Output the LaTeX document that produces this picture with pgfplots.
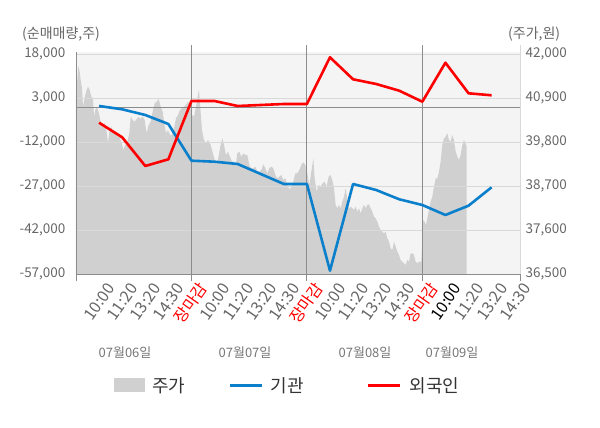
\documentclass[border=0pt]{standalone}
\usepackage{fontspec}
\setmainfont{Noto Sans CJK KR}
\usepackage{pgfplots}
\usepackage{pgfplotstable}
\pgfplotsset{compat=1.18}
\definecolor{tickgray}{HTML}{666666}
\definecolor{dategray}{HTML}{777777}
\definecolor{areagray}{HTML}{D0D0D0}
\definecolor{bggray}{HTML}{F4F4F4}
\definecolor{gridgray}{HTML}{D9D9D9}
\definecolor{axisgray}{HTML}{8C8C8C}
\definecolor{blueline}{HTML}{0A7FCC}
\definecolor{redline}{HTML}{FF0000}
\definecolor{legtext}{HTML}{333333}

\pgfplotstableread{
x price
0 41000
0.058 41358
0.10 41716
0.159 41566
0.202 41358
0.26 41150
0.303 40691
0.346 40816
0.404 40983
0.462 41108
0.52 41191
0.592 41108
0.664 40941
0.736 40900
0.78 40441
0.837 40608
0.895 40691
0.953 40608
1.01 40483
1.068 40316
1.155 40233
1.242 40275
1.328 40066
1.386 39775
1.444 40066
1.53 40191
1.617 40025
1.703 40066
1.79 39941
1.877 39941
1.963 39816
2.05 39608
2.136 39733
2.223 39816
2.31 40025
2.368 40441
2.454 40358
2.541 40316
2.628 40383
2.714 40441
2.801 40383
2.887 40441
2.974 40358
3.061 40025
3.147 40233
3.234 40316
3.32 40566
3.407 40775
3.494 40816
3.58 40883
3.667 40691
3.754 40566
3.811 40316
3.898 40025
3.984 40108
4.071 39983
4.158 39983
4.244 40150
4.331 40400
4.417 40483
4.504 40608
4.591 40650
4.677 40691
4.764 40733
4.851 40816
4.937 40691
5.024 40483
5.11 40441
5.197 40691
5.284 40983
5.327 41108
5.385 40650
5.457 40108
5.543 39858
5.63 39775
5.717 39858
5.832 39733
5.948 39483
6.049 39275
6.15 39358
6.236 39650
6.337 39900
6.41 39733
6.496 39483
6.583 39566
6.67 39441
6.756 39316
6.843 39316
6.929 39275
6.987 39525
7.074 39566
7.16 39441
7.247 39525
7.334 39483
7.42 39483
7.507 39233
7.593 39150
7.68 39150
7.767 39191
7.853 39066
7.94 39066
8.026 39108
8.113 39250
8.2 39150
8.286 39025
8.373 39150
8.46 39191
8.546 39150
8.633 38983
8.719 38900
8.806 38941
8.893 38983
8.979 38858
9.066 38900
9.152 38733
9.239 38633
9.326 38666
9.412 38816
9.499 39025
9.586 39025
9.672 39108
9.759 39233
9.845 39300
9.932 39233
10.019 39025
10.105 38733
10.192 39066
10.278 39400
10.336 38900
10.423 38566
10.51 38733
10.596 38691
10.683 38775
10.77 38816
10.856 38691
10.943 38941
11.029 38983
11.116 38816
11.174 38650
11.246 38233
11.318 38150
11.39 38233
11.462 38150
11.534 38316
11.607 38441
11.679 38650
11.751 38358
11.823 38150
11.895 38191
11.968 38150
12.04 38108
12.112 38191
12.184 38066
12.256 38150
12.329 38025
12.401 38150
12.473 38233
12.545 38150
12.617 38233
12.69 38250
12.762 38150
12.834 38066
12.906 37941
12.978 37900
13.05 37816
13.123 37691
13.195 37608
13.267 37566
13.339 37525
13.411 37566
13.483 37400
13.556 37316
13.628 37150
13.7 37108
13.772 37316
13.844 37191
13.916 37066
13.989 36983
14.061 36858
14.133 36816
14.205 36775
14.277 36733
14.35 36858
14.422 36816
14.494 37025
14.566 37025
14.638 36983
14.71 36816
14.783 36775
14.855 36816
14.956 36816
15.043 37858
15.1 37816
15.158 37733
15.216 37900
15.288 38108
15.36 38316
15.432 38441
15.505 38691
15.577 38900
15.649 38900
15.721 39066
15.793 39316
15.865 39733
15.938 39900
16.01 39941
16.082 40025
16.154 39858
16.226 39816
16.298 39983
16.37 39858
16.443 39566
16.515 39441
16.587 39358
16.659 39483
16.731 39733
16.803 39858
16.876 39775
16.92 39691
16.921 36500
}\pricetable

\pgfplotstableread{
x inst foreign
1 375 -5318
2 -750 -10295
3 -2693 -20079
4 -5761 -17795
5 -18272 2080
6 -18613 2080
7 -19397 375
8 -22806 716
9 -26215 1057
10 -26215 1057
11 -55771 16977
12 -26215 9477
13 -28261 7875
14 -31431 5591
15 -33374 1841
16 -36783 15136
17 -33613 4705
18 -27340 4023
}\flowtable

\begin{document}
\begin{tikzpicture}[x=1pt,y=1pt]
% origin = lower-left corner of plot area (image px 76, 274.3)
\path[use as bounding box] (-76,-153.7) rectangle (524,274.3);

% price axis (right)
\begin{axis}[
  width=444pt, height=222.6pt, scale only axis,
  xmin=0, xmax=19.23, ymin=36500, ymax=42065,
  axis x line=none,
  axis y line*=right,
  y axis line style={draw=gridgray, line width=0.8pt},
  axis background/.style={fill=bggray},
  ytick={36500,37600,38700,39800,40900,42000},
  ytick style={draw=none},
  scaled y ticks=false,
  /pgf/number format/assume math mode=true,
  /pgf/number format/fixed,
  /pgf/number format/1000 sep={,},
  yticklabel style={font=\fontsize{13.5}{15}\selectfont, color=tickgray, xshift=2pt},
  clip=true,
]
\addplot[fill=areagray, draw=none] table[x=x, y=price] {\pricetable} \closedcycle;
\end{axis}

% flow axis (left)
\begin{axis}[
  width=444pt, height=222.6pt, scale only axis,
  xmin=0, xmax=19.23, ymin=-57000, ymax=18886,
  axis x line*=bottom,
  axis y line*=left,
  x axis line style={draw=axisgray, line width=0.8pt},
  y axis line style={draw=axisgray, line width=0.8pt},
  ytick={-57000,-42000,-27000,-12000,3000,18000},
  ytick style={draw=none},
  scaled y ticks=false,
  xtick={1,...,19},
  xtick style={draw=none},
  xticklabels={10:00,11:20,13:20,14:30,\textcolor{red}{장마감},10:00,11:20,13:20,14:30,\textcolor{red}{장마감},10:00,11:20,13:20,14:30,\textcolor{red}{장마감},\textcolor{black}{10:00},11:20,13:20,14:30},
  xticklabel style={font=\fontsize{16}{18}\selectfont, color=tickgray, rotate=55, anchor=east, inner sep=0pt, xshift=-2pt, yshift=-16pt},
  ymajorgrids,
  major grid style={draw=gridgray, line width=0.8pt},
  /pgf/number format/assume math mode=true,
  /pgf/number format/fixed,
  /pgf/number format/1000 sep={,},
  yticklabel style={font=\fontsize{13.5}{15}\selectfont, color=tickgray, xshift=-7pt},
  clip=false,
]
\draw[axisgray, line width=0.8pt] (axis cs:0,0) -- (axis cs:19.23,0);
\draw[axisgray, line width=0.8pt] ([yshift=-7pt]axis cs:5,-57000) -- ([yshift=7pt]axis cs:5,18886);
\draw[axisgray, line width=0.8pt] ([yshift=-7pt]axis cs:10,-57000) -- ([yshift=7pt]axis cs:10,18886);
\draw[axisgray, line width=0.8pt] ([yshift=-7pt]axis cs:15,-57000) -- ([yshift=7pt]axis cs:15,18886);
\draw[axisgray, line width=0.8pt] ([yshift=-7pt]axis cs:0,-57000) -- (axis cs:0,-57000);
\draw[axisgray, line width=0.8pt] ([yshift=-7pt]axis cs:19.23,-57000) -- (axis cs:19.23,-57000);
\draw[gridgray, line width=0.8pt] (axis cs:19.23,18886) -- ([yshift=7pt]axis cs:19.23,18886);
\addplot[blueline, line width=2.6pt, line join=round] table[x=x, y=inst] {\flowtable};
\addplot[redline, line width=2.6pt, line join=round] table[x=x, y=foreign] {\flowtable};
\end{axis}

% header labels
\node[font=\fontsize{14}{16}\selectfont, text=tickgray, anchor=west, inner sep=0pt] at (-54,240) {(순매매량,주)};
\node[font=\fontsize{14}{16}\selectfont, text=tickgray, anchor=west, inner sep=0pt] at (432,240) {(주가,원)};

% date labels
\node[font=\fontsize{13}{15}\selectfont, text=dategray, inner sep=0pt] at (49,-78.7) {07월06일};
\node[font=\fontsize{13}{15}\selectfont, text=dategray, inner sep=0pt] at (169,-78.7) {07월07일};
\node[font=\fontsize{13}{15}\selectfont, text=dategray, inner sep=0pt] at (289,-78.7) {07월08일};
\node[font=\fontsize{13}{15}\selectfont, text=dategray, inner sep=0pt] at (376,-78.7) {07월09일};

% legend
\fill[areagray] (38,-118) rectangle (69,-104);
\node[font=\fontsize{18}{20}\selectfont, text=legtext, anchor=west, inner sep=0pt] at (76,-111.7) {주가};
\draw[blueline, line width=3pt] (154,-111.7) -- (185.7,-111.7);
\node[font=\fontsize{18}{20}\selectfont, text=legtext, anchor=west, inner sep=0pt] at (194.5,-111.7) {기관};
\draw[redline, line width=3pt] (292.3,-111.7) -- (324,-111.7);
\node[font=\fontsize{18}{20}\selectfont, text=legtext, anchor=west, inner sep=0pt] at (333.5,-111.7) {외국인};
\end{tikzpicture}
\end{document}
